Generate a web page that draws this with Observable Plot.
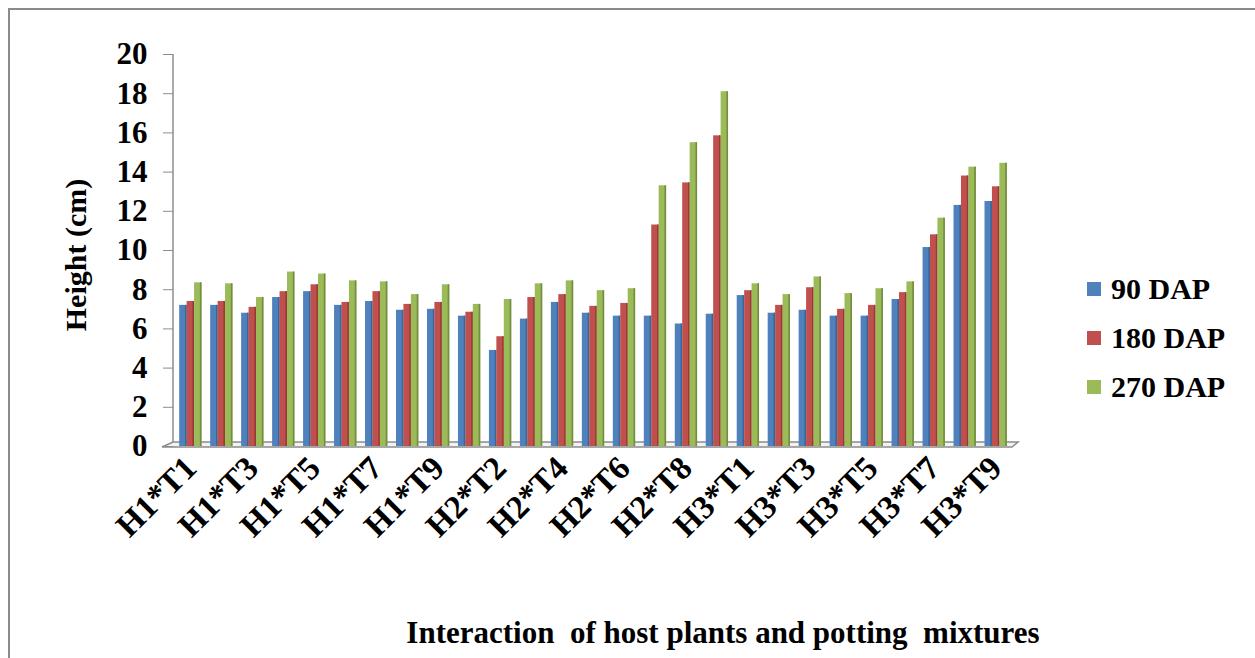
<!DOCTYPE html>
<html>
<head>
<meta charset="utf-8">
<script src="https://cdn.jsdelivr.net/npm/d3@7"></script>
<script src="https://cdn.jsdelivr.net/npm/@observablehq/plot@0.6"></script>
<style>
  html, body { margin: 0; padding: 0; background: #fff; }
  #wrap { position: relative; width: 1255px; height: 658px; overflow: hidden;
          font-family: "Liberation Serif", "DejaVu Serif", "Noto Serif", "Times New Roman", Times, serif;
          font-weight: bold; color: #000; }
  #border { position: absolute; left: 8px; top: 8px; width: 1300px; height: 700px;
            border: 2px solid #8a8a8a; box-sizing: border-box; }
  #chart { position: absolute; left: 0; top: 0; }
  .ytitle { position: absolute; left: 76px; top: 255px; transform: translate(-50%, -50%) rotate(-90deg);
            font-size: 30px; white-space: pre; }
  .xtitle { position: absolute; left: 723px; top: 633px; transform: translate(-50%, -50%);
            font-size: 31px; white-space: pre; }
  .legend { position: absolute; left: 1087px; top: 264px; font-size: 30px; }
  .legend div { display: flex; align-items: center; height: 49px; }
  .legend span.sw { display: inline-block; width: 14px; height: 14px; margin-right: 10px; }
</style>
</head>
<body>
<div id="wrap">
  <div id="border"></div>
  <div id="chart"></div>
  <div class="ytitle">Height (cm)</div>
  <div class="xtitle">Interaction  of host plants and potting  mixtures</div>
  <div class="legend" id="legend"></div>
</div>
<script>
// Host plant × potting mixture combinations
const categories = [
  "H1*T1","H1*T2","H1*T3","H1*T4","H1*T5","H1*T6","H1*T7","H1*T8","H1*T9",
  "H2*T1","H2*T2","H2*T3","H2*T4","H2*T5","H2*T6","H2*T7","H2*T8","H2*T9",
  "H3*T1","H3*T2","H3*T3","H3*T4","H3*T5","H3*T6","H3*T7","H3*T8","H3*T9"
];
// Plant height (cm) at each stage
const dap90  = [7.2,7.2,6.8,7.6,7.9,7.2,7.4,6.95,7.0, 6.65,4.9,6.5,7.35,6.8,6.65,6.65,6.25,6.75, 7.7,6.8,6.95,6.65,6.65,7.5,10.15,12.3,12.5];
const dap180 = [7.4,7.4,7.1,7.9,8.25,7.35,7.9,7.25,7.35, 6.85,5.6,7.6,7.75,7.15,7.3,11.3,13.45,15.85, 7.95,7.2,8.1,7.0,7.2,7.85,10.8,13.8,13.25];
const dap270 = [8.35,8.3,7.6,8.9,8.8,8.45,8.4,7.75,8.25, 7.25,7.5,8.3,8.45,7.95,8.05,13.3,15.5,18.1, 8.3,7.75,8.65,7.8,8.05,8.4,11.65,14.25,14.45];

const seriesNames = ["90 DAP", "180 DAP", "270 DAP"];
const seriesValues = [dap90, dap180, dap270];
const seriesColors = ["#4f81bd", "#c0504d", "#9bbb59"];
const seriesSides  = ["#3a6597", "#973a37", "#738c40"];
const yTicks = [0, 2, 4, 6, 8, 10, 12, 14, 16, 18, 20];
const labelledCategories = categories.filter((d, i) => i % 2 === 0);

const rows = seriesNames.map((s, k) =>
  categories.map((c, i) => ({cat: c, series: s, value: seriesValues[k][i]})));

const W = 1255, H = 658;
const marginLeft = 173, marginRight = 242, marginTop = 54, marginBottom = 212;
const pIn = 0.28, pOut = 0.2;
const step = (W - marginLeft - marginRight) / (categories.length - pIn + 2 * pOut);
const bw = step * (1 - pIn);
const third = bw / 3;

// Three-D floor under the bars plus the value axis line
function floor(index, scales, values, dims) {
  const y0 = scales.y(0), yTop = scales.y(20);
  const x0 = dims.marginLeft, x1 = dims.width - dims.marginRight;
  const g = d3.create("svg:g");
  g.append("path")
    .attr("d", `M${x0 - 11},${y0 + 1}L${x1 - 1},${y0 + 1}L${x1 + 5},${y0 - 4}L${x0},${y0 - 4}Z`)
    .attr("fill", "#f2f2f2").attr("stroke", "#8c8c8c").attr("stroke-width", 1.5);
  g.append("line").attr("x1", x0).attr("x2", x0).attr("y1", yTop).attr("y2", y0 - 4)
    .attr("stroke", "#8c8c8c").attr("stroke-width", 1.5);
  return g.node();
}

const marks = [floor];
rows.forEach((data, k) => {
  const left = k * third, right = bw - (k + 1) * third;
  marks.push(Plot.barY(data, {x: "cat", y: "value", fill: seriesColors[k],
    insetLeft: left, insetRight: right}));
  marks.push(Plot.barY(data, {x: "cat", y: "value", fill: seriesSides[k],
    insetLeft: left + third - 1.6, insetRight: right}));
});
marks.push(Plot.axisY({ticks: yTicks, tickSize: 10, tickPadding: 16, stroke: "#8c8c8c", fill: "#000", label: null, fontSize: 31}));
marks.push(Plot.axisX({ticks: labelledCategories, tickRotate: -45, tickSize: 0, tickPadding: 16, dx: 0, fill: "#000", label: null, fontSize: 33}));

const chart = Plot.plot({
  width: W, height: H,
  marginLeft, marginRight, marginTop, marginBottom,
  style: {fontFamily: "'Liberation Serif', 'DejaVu Serif', 'Noto Serif', 'Times New Roman', serif", fontWeight: "bold", fontSize: "29px", background: "transparent"},
  x: {domain: categories, paddingInner: pIn, paddingOuter: pOut, round: false},
  y: {domain: [0, 20]},
  marks
});
document.getElementById("chart").appendChild(chart);

const legend = document.getElementById("legend");
seriesNames.forEach((s, k) => {
  const row = document.createElement("div");
  const sw = document.createElement("span");
  sw.className = "sw"; sw.style.background = seriesColors[k];
  row.appendChild(sw);
  row.appendChild(document.createTextNode(s));
  legend.appendChild(row);
});
</script>
</body>
</html>
